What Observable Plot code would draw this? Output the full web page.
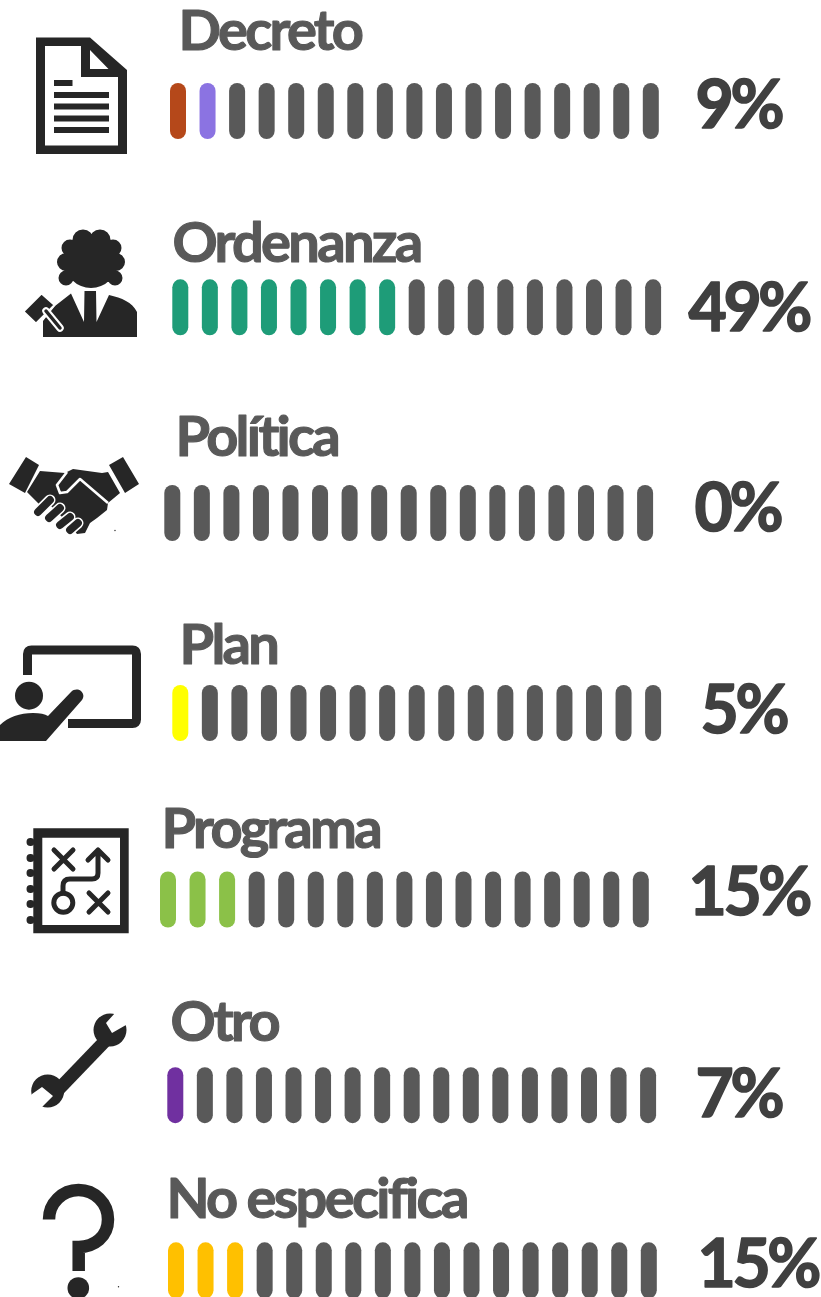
<!DOCTYPE html>
<html lang="es">
<head>
<meta charset="utf-8">
<script src="https://cdn.jsdelivr.net/npm/d3@7"></script>
<script src="https://cdn.jsdelivr.net/npm/@observablehq/plot@0.6"></script>
<style>
html,body{margin:0;padding:0;background:#fff;overflow:hidden}
svg{display:block}
.lbl text{letter-spacing:-2.7px}
.pct text{letter-spacing:-3.4px}
</style>
</head>
<body>
<div id="chart"></div>
<script>
// ---- data ----
const categories = ["Decreto","Ordenanza","Política","Plan","Programa","Otro","No especifica"];
const percents   = [9,49,0,5,15,7,15];
const pillCount  = 17;
const accents = [["#B5481A","#8B73E2"],["#1E9C78"],["#595959"],["#FFFF00"],["#8BC148"],["#7030A0"],["#FFC000"]];

// ---- layout ----
const W = 821, H = 1297;
const barLeft = [170,172.3,164.3,172.3,160,167.3,168];
const barTop  = [83,279.3,485,685,871.5,1067.2,1242.3];
const labelX  = [178,172,175,179,161,170,166];
const labelY  = [49,261,455,663,847,1040,1217];
const pctX    = [695,688,694,700,688,695,697];
const pctY    = [127,330,530,732,914,1116,1286];
const pitch = 29.55, pillW = 16, pillH = 56;
const ink = "#262626";

const pills = categories.flatMap((c,r) => {
  const on = Math.round(percents[r]*pillCount/100);
  return d3.range(pillCount).map(i => ({
    x1: barLeft[r]+i*pitch, x2: barLeft[r]+i*pitch+pillW,
    y1: barTop[r], y2: barTop[r]+pillH,
    color: i<on ? accents[r][i%accents[r].length] : "#595959"
  }));
});
const rows = categories.map((c,r)=>({c,p:percents[r]+"%",lx:labelX[r],ly:labelY[r],px:pctX[r],py:pctY[r]}));

// ---- icons, drawn as vector shapes in picture units ----
const circ=(x,y,r)=>`M${x-r},${y}a${r},${r} 0 1 0 ${2*r},0a${r},${r} 0 1 0 ${-2*r},0Z`;
const icons = [
 // document
 {f:ink,rule:"evenodd",d:"M36,37.5H90L127,70V154H36Z M45,46V145.5H118V77H81V46Z M90,50V69H108.5Z"},
 {f:ink,d:"M54,80h18.5v6H54Z M54,92h55v6H54Z M54,103.5h55v6H54Z M54,115.5h55v6H54Z M54,127h55v6H54Z"},
 // judge
 {f:ink,d:[[83,240,10.5],[100,240,10.5],[113,248,8.5],[70,248,8.5],[66,262,9],[116,262,9],[66,278,7.5],[115,278,7.5],[91,262,26]].map(a=>circ(...a)).join("")},
 {f:ink,d:"M43,337V321L55,306L71,293.5L84,322L84.5,291H96L96.5,322L109,295C122,298 132,302 137,312V337Z"},
 {f:ink,s:"#fff",w:1.8,join:"round",d:"M41.5,293.5L54.5,305L36,323.5L23.5,311.5Z"},
 {s:"#fff",w:7.5,d:"M46,311L60,328",cap:"round"},
 {s:ink,w:3.5,d:"M46,311L60,328",cap:"round"},
 // handshake
 {f:ink,d:"M26,457L39,465L25,493L9,484Z M123,457L139,484L125,493L109,465Z"},
 {f:ink,d:"M40,471L65,473L73,469L102,473L108,472L120,493L108,503L107,510L97,518L90,523L85,533L77,534L70,525L50,505L40,505L27,492Z"},
 {s:"#fff",w:2.6,f:"none",join:"round",d:"M67,472L57,485L60,493L67,492L80,479L108,503"},
 {s:"#fff",w:11,d:"M38,512L50,500M49,518L60,508M60,525L70,517M70,530L78,523",cap:"round"},
 {s:ink,w:7.8,d:"M38,512L50,500M49,518L60,508M60,525L70,517M70,530L78,523",cap:"round"},
 {f:ink,d:circ(115,530.5,.7)},
 // presentation
 {s:ink,w:9,f:"none",d:"M27.5,675V654Q27.5,650 31.5,650H132.5Q136.5,650 136.5,654V719.5Q136.5,723.5 132.5,723.5H68"},
 {f:ink,d:circ(29,695.7,14)},
 {f:ink,d:"M0,741V725C8,717 20,713 33,713C40,713 45,714 48,716L71,692C74,689 78,689 81,691C84,694 84,697 82,700L46,741Z"},
 // playbook
 {f:ink,rule:"evenodd",d:"M33.3,828.3H128.7V933.3H33.3Z M42.3,837.7V925H120V837.7Z"},
 {f:ink,d:[842,858,873,889,904,920].map(y=>circ(30.5,y,4)).join("")},
 {s:ink,w:5,f:"none",cap:"round",join:"round",d:"M54,850L73,869M73,850L54,869 M89,893L108,912M108,893L89,912 M63,893V886Q63,879 70,879H92Q98,879 98,873V850 M88,860L98,850L108,860"},
 {s:ink,w:5,f:"none",d:circ(63.3,902.7,9.5)},
 // wrench
 {s:ink,w:13,d:"M58,1090L108,1038"},
 {f:ink,rule:"evenodd",d:circ(110,1030,16.5)+circ(47.7,1091,16.5)},
 {f:"#fff",d:"M115,1013L106,1023L112,1033L126,1025L134,1012L122,1004Z M32,1094L42,1087L53,1096L43,1106L36,1114L24,1104Z"},
 // question mark
 {s:ink,w:12.5,f:"none",d:"M49,1219.5A29.5,29.5 0 0 1 108,1219.5C108,1237 94,1247 78.7,1247V1271"},
 {f:ink,d:circ(78.3,1288,10.8)},
 {f:ink,d:circ(118.5,1286.8,.7)}
];
function iconMark(index,{x,y}){
  const g=d3.create("svg:g").attr("transform",`translate(${x(0)},${y(0)})`);
  for(const s of icons){
    g.append("path").attr("d",s.d)
     .attr("fill",s.f||"none").attr("fill-rule",s.rule||null)
     .attr("stroke",s.s||null).attr("stroke-width",s.w||null)
     .attr("stroke-linecap",s.cap||null).attr("stroke-linejoin",s.join||null);
  }
  return g.node();
}

const chart = Plot.plot({
  width:W,height:H,margin:0,
  style:{background:"#fff",overflow:"hidden"},
  x:{domain:[0,W],range:[0,W],axis:null},
  y:{domain:[0,H],range:[0,H],axis:null},
  color:{type:"identity"},
  marks:[
    iconMark,
    Plot.rect(pills,{x1:"x1",x2:"x2",y1:"y1",y2:"y2",fill:"color",rx:8}),
    Plot.text(rows,{x:"lx",y:"ly",text:"c",textAnchor:"start",lineAnchor:"bottom",fill:"#595959",
      stroke:"#595959",strokeWidth:1.1,fontFamily:"Lato",fontWeight:700,fontSize:56,className:"lbl"}),
    Plot.text(rows,{x:"px",y:"py",text:"p",textAnchor:"start",lineAnchor:"bottom",fill:"#404040",
      stroke:"#404040",strokeWidth:1.6,fontFamily:"Lato",fontWeight:700,fontSize:66,className:"pct"})
  ]
});
document.getElementById("chart").append(chart);
</script>
</body>
</html>
